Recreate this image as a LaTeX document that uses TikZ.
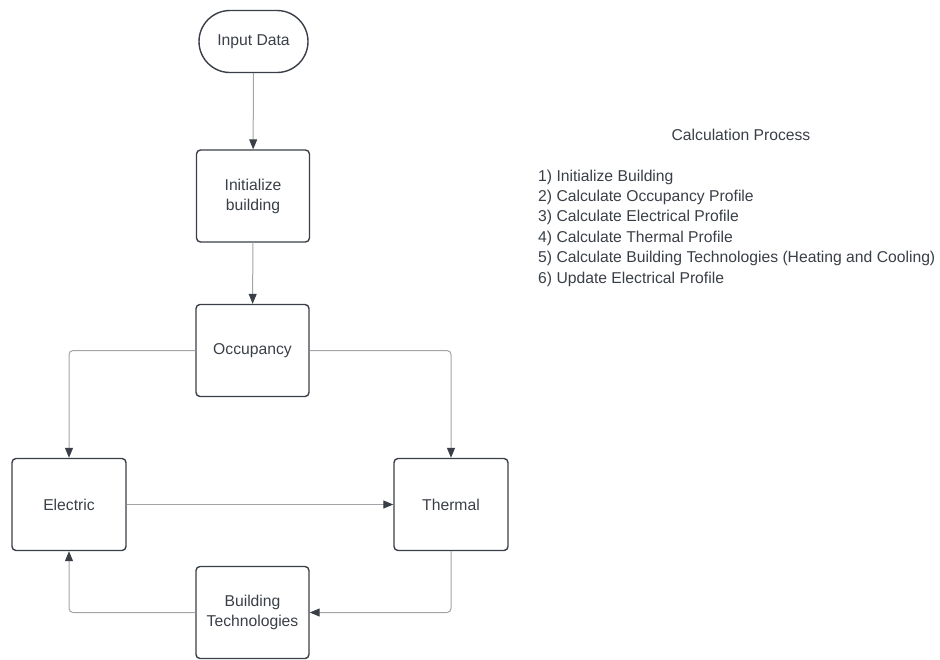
\documentclass[tikz,border=0pt]{standalone}
\usepackage{fontspec}
\setmainfont{Liberation Sans}
\usetikzlibrary{arrows.meta,shapes.misc}

\definecolor{inkdark}{HTML}{3A3F47}
\definecolor{wiregray}{HTML}{A2A4A8}

\tikzset{
  boxstyle/.style={draw=inkdark, line width=1.4pt, rectangle, rounded corners=4pt,
    minimum width=113pt, minimum height=92pt, inner sep=2pt, align=center,
    text=inkdark, font=\fontsize{15.7}{20}\selectfont},
  termstyle/.style={draw=inkdark, line width=1.4pt, rounded rectangle,
    minimum width=113pt, minimum height=62pt, inner sep=2pt, align=center,
    text=inkdark, font=\fontsize{15.7}{20}\selectfont},
  flow/.style={draw=wiregray, line width=1pt, rounded corners=4pt,
    -{Triangle[length=10pt,width=8pt,color=inkdark]}},
  listline/.style={anchor=west, inner sep=0pt, text=inkdark,
    font=\fontsize{15.7}{20}\selectfont, text height=11pt, text depth=3pt},
}

\begin{document}
\begin{tikzpicture}[x=1pt,y=-1pt]
  \useasboundingbox (0,0) rectangle (940,659);

  % flowchart blocks
  \node[termstyle] (input) at (253.5,41.5) {Input Data};
  \node[boxstyle] (init) at (253,196) {Initialize\\building};
  \node[boxstyle] (occ) at (252.5,350.5) {Occupancy};
  \node[boxstyle, minimum width=114pt] (elec) at (69,504.5) {Electric};
  \node[boxstyle, minimum width=114pt] (therm) at (451,504.5) {Thermal};
  \node[boxstyle] (tech) at (252.5,612.5) {Building\\Technologies};

  % connectors
  \draw[flow] (input) -- (init);
  \draw[flow] (init) -- (occ);
  \draw[flow] (occ.west) -| (elec.north);
  \draw[flow] (occ.east) -| (therm.north);
  \draw[flow] (elec.east) -- (therm.west);
  \draw[flow] (therm.south) |- (tech.east);
  \draw[flow] (tech.west) -| (elec.south);

  % process description
  \node[text=inkdark, font=\fontsize{15.7}{20}\selectfont] (title) at (741,135) {Calculation Process};
  \node[listline] (s1) at (538,177.0) {1) Initialize Building};
  \node[listline] (s2) at (538,197.4) {2) Calculate Occupancy Profile};
  \node[listline] (s3) at (538,217.8) {3) Calculate Electrical Profile};
  \node[listline] (s4) at (538,238.2) {4) Calculate Thermal Profile};
  \node[listline] (s5) at (538,258.6) {5) Calculate Building Technologies (Heating and Cooling)};
  \node[listline] (s6) at (538,279.0) {6) Update Electrical Profile};
\end{tikzpicture}
\end{document}
